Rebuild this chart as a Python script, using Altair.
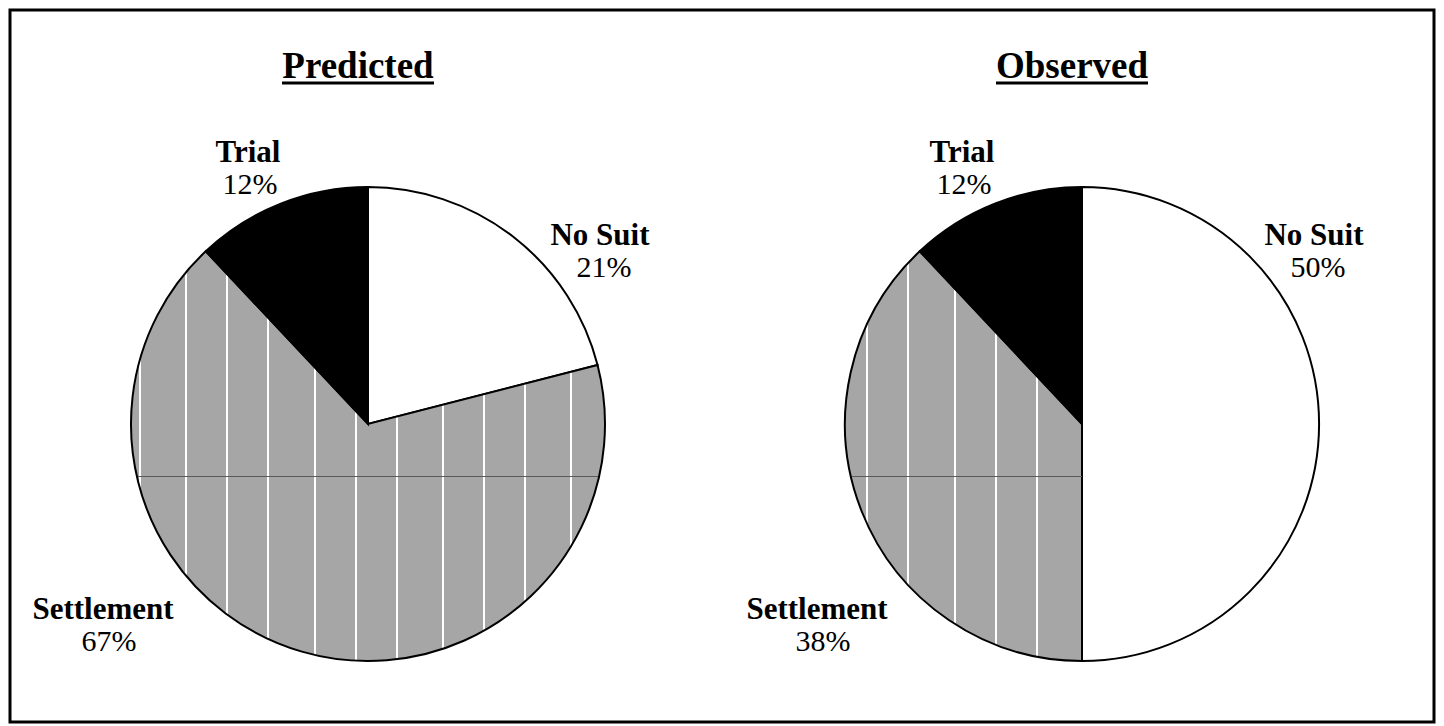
import math
import altair as alt
import pandas as pd

categories = ["No Suit", "Settlement", "Trial"]
predicted = [21, 67, 12]
observed = [50, 38, 12]
panels = ["Predicted", "Observed"]
colors = ["#ffffff", "#a6a6a6", "#000000"]

rows = []
for panel, vals in zip(panels, [predicted, observed]):
    for i, (c, v) in enumerate(zip(categories, vals)):
        rows.append({"panel": panel, "category": c, "value": v, "order": i,
                     "pct": f"{v}%"})
df = pd.DataFrame(rows)

OFF = 10  # page margin + padding
centers = {"Predicted": (368 - OFF, 424 - OFF), "Observed": (1082 - OFF, 424 - OFF)}
R = 237
FONT = "Liberation Serif"
GRAY = "#a6a6a6"
# texture: white vertical hairlines (page x) and a dark horizontal hairline (page y)
vlines = {"Predicted": [140, 186.3, 227.3, 268.3, 314.7, 355.7, 396.7, 442.7, 483.7, 524.7, 570.7],
          "Observed": [867.3, 908.3, 954.7, 995.7, 1036.7]}
hline_y = 476.7

# label offsets from pie centre (name baseline); percent baseline below
label_off = {"No Suit": (232, -179), "Settlement": (-265, 195), "Trial": (-120, -262)}
pct_dx = {"No Suit": 4, "Settlement": 6, "Trial": 2}


def slice_bbox(vals, idx, cx, cy):
    tot = sum(vals)
    a0 = sum(vals[:idx]) / tot * 2 * math.pi
    a1 = sum(vals[:idx + 1]) / tot * 2 * math.pi
    pts = [(cx, cy)]
    n = 400
    for k in range(n + 1):
        a = a0 + (a1 - a0) * k / n
        pts.append((cx + R * math.sin(a), cy - R * math.cos(a)))
    xs = [p[0] for p in pts]
    ys = [p[1] for p in pts]
    return min(xs), max(xs), min(ys), max(ys)


def stops_for(lines, lo, hi, base, line_col, half):
    w = hi - lo
    st = [{"offset": 0, "color": base}]
    for p in lines:
        f0 = (p - half - lo) / w
        f1 = (p + half - lo) / w
        if f0 <= 0 or f1 >= 1:
            continue
        st += [{"offset": f0, "color": base}, {"offset": f0, "color": line_col},
               {"offset": f1, "color": line_col}, {"offset": f1, "color": base}]
    st.append({"offset": 1, "color": base})
    return st


layers = []
for panel, vals in zip(panels, [predicted, observed]):
    cx, cy = centers[panel]
    x0, x1, y0, y1 = slice_bbox(vals, 1, cx + OFF, cy + OFF)
    vgrad = {"gradient": "linear", "x1": 0, "y1": 0, "x2": 1, "y2": 0,
             "stops": stops_for(vlines[panel], x0, x1, GRAY, "#ffffff", 0.9)}
    hgrad = {"gradient": "linear", "x1": 0, "y1": 0, "x2": 0, "y2": 1,
             "stops": stops_for([hline_y], y0, y1, "rgba(0,0,0,0)", "#5a5a5a", 0.9)}
    base = alt.Chart(df).transform_filter(alt.datum.panel == panel)
    arc = base.mark_arc(outerRadius=R, stroke="black", strokeWidth=2).encode(
        theta=alt.Theta("value:Q", stack=True),
        order=alt.Order("order:Q"),
        fill=alt.condition(alt.datum.category == "Settlement", alt.value(vgrad),
                           alt.Fill("category:N", scale=alt.Scale(domain=categories, range=colors),
                                    legend=None)),
        x=alt.value(cx),
        y=alt.value(cy),
    )
    overlay = base.mark_arc(outerRadius=R - 1, strokeWidth=0).encode(
        theta=alt.Theta("value:Q", stack=True),
        order=alt.Order("order:Q"),
        fill=alt.condition(alt.datum.category == "Settlement", alt.value(hgrad),
                           alt.value("rgba(0,0,0,0)")),
        x=alt.value(cx),
        y=alt.value(cy),
    )
    layers += [arc, overlay]
    # title
    title = alt.Chart(pd.DataFrame({"t": [panel]})).mark_text(
        font=FONT, fontSize=37, fontWeight="bold", baseline="alphabetic", align="center"
    ).encode(text="t:N", x=alt.value(cx - 10), y=alt.value(78 - OFF))
    layers.append(title)
    underline = alt.Chart(pd.DataFrame({"t": [panel]})).mark_rule(
        color="black", strokeWidth=3
    ).encode(x=alt.value(cx - 10 - 76), x2=alt.value(cx - 10 + 76), y=alt.value(83 - OFF))
    layers.append(underline)
    for cat in categories:
        dx, dy = label_off[cat]
        sub = base.transform_filter(alt.datum.category == cat)
        name = sub.mark_text(font=FONT, fontSize=31, fontWeight="bold",
                             baseline="alphabetic", align="center").encode(
            text="category:N", x=alt.value(cx + dx), y=alt.value(cy + dy))
        pct = sub.mark_text(font=FONT, fontSize=30, baseline="alphabetic",
                            align="center").encode(
            text="pct:N", x=alt.value(cx + dx + pct_dx[cat]), y=alt.value(cy + dy + 32))
        layers += [name, pct]

chart = alt.layer(*layers).properties(
    width=1428, height=716, padding=2,
    autosize=alt.AutoSizeParams(type="fit", contains="padding"),
).configure_view(stroke="black", strokeWidth=3)

chart.save("out.html", embed_options={"renderer": "svg", "actions": False})
